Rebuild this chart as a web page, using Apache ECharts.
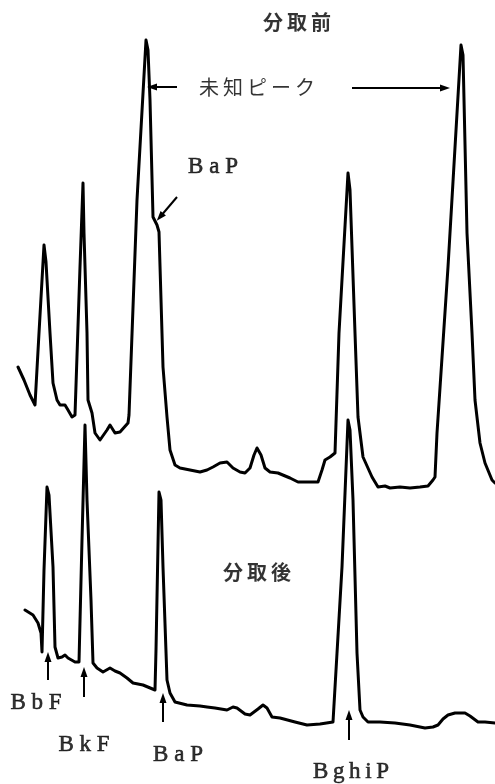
<!DOCTYPE html>
<html>
<head>
<meta charset="utf-8">
<script src="https://cdn.jsdelivr.net/npm/echarts@6/dist/echarts.min.js"></script>
<style>
html,body{margin:0;padding:0;background:#fff;}
#c{width:495px;height:784px;}
</style>
</head>
<body>
<div id="c"></div>
<script>
// Chromatogram before fractionation (分取前): retention (arb.) and detector response (arb.)
const beforeTime = [18,24,30,35,39,44,46,50,53,57,60,65,68,72,75,80,83,84,87,88,92,95,100,107,110,115,120,128,129,137,146,148,150,153,157,159,163,167,170,175,180,190,200,207,213,220,227,233,240,245,250,254,257,261,265,270,278,290,298,318,322,325,330,335,339,348,350,355,358,363,372,378,385,390,400,410,420,428,433,435,437,448,461,463,467,472,475,480,485,492,495];
const beforeSignal = [417,404,389,379,451,539,522,451,401,384,379,379,374,367,369,517,601,551,451,384,371,351,344,354,359,351,352,361,369,584,744,734,684,567,559,552,417,367,334,319,316,314,312,314,317,321,322,316,312,311,316,329,336,329,316,312,311,306,302,302,314,324,327,331,451,611,594,451,367,327,307,297,298,296,297,296,297,298,304,307,351,517,739,729,551,451,384,341,321,304,301];

// Chromatogram after fractionation (分取後)
const afterTime = [25,33,38,41,42,44,47,49,53,55,58,62,65,68,70,75,79,82,85,87,91,93,97,103,110,115,120,127,133,143,155,156,159,161,163,167,170,175,187,200,207,215,227,233,237,245,250,258,263,267,272,280,295,307,320,333,342,348,350,353,357,360,363,368,380,395,410,425,433,438,443,448,455,465,470,478,485,495];
const afterSignal = [174,169,161,151,132,214,297,289,217,137,126,127,129,126,124,122,122,244,359,284,184,121,116,112,116,113,111,106,101,99,94,134,292,284,217,104,91,82,79,78,77,76,74,77,76,70,69,75,79,76,67,66,62,59,60,62,217,364,354,284,131,74,67,62,62,61,59,56,57,59,65,69,71,71,68,62,62,61];

// Annotation texts and their anchors (retention, response)
const labelTexts = ['分取前','未知ピーク','BaP','分取後','BbF','BkF','BaP','BghiP'];
const labelTime = [297,257,213,257,36,84,178,351];
const labelSignal = [762,697,617,212,81,39,29,12];

// Arrow annotations: [from, to] in (retention, response)
const arrowFrom = [[177,697],[352,696],[177,587],[48,104],[84,87],[163,62],[349,44]];
const arrowTo   = [[152,697],[445,696],[160,567],[48,127],[84,112],[163,86],[349,69]];

const zip = (a, b) => a.map((v, i) => [v, b[i]]);
const isJP = s => /[^\x00-\x7f]/.test(s);
const spaced = s => isJP(s) ? s.split('').join('\u2009') : (s === 'BghiP' ? s.split('').join('\u2009') : s.split('').join(' '));

const chart = echarts.init(document.getElementById('c'), null, {renderer: 'canvas'});
const lineStyle = {color: '#000', width: 3, join: 'round', cap: 'round'};

chart.setOption({
  animation: false,
  backgroundColor: '#fff',
  grid: {left: 0, right: 0, top: 0, bottom: 0},
  xAxis: {type: 'value', min: 0, max: 495, show: false, splitLine: {show: false}},
  yAxis: {type: 'value', min: 0, max: 784, show: false, splitLine: {show: false}},
  series: [
    {
      name: '分取前', type: 'line', data: zip(beforeTime, beforeSignal),
      showSymbol: false, lineStyle: lineStyle, clip: false
    },
    {
      name: '分取後', type: 'line', data: zip(afterTime, afterSignal),
      showSymbol: false, lineStyle: lineStyle, clip: false
    },
    {
      name: 'arrows', type: 'line', data: [], clip: false,
      markLine: {
        silent: true,
        symbol: ['none', 'triangle'],
        symbolSize: 9,
        lineStyle: {color: '#000', width: 2, type: 'solid'},
        itemStyle: {color: '#000'},
        label: {show: false},
        emphasis: {disabled: true},
        data: arrowFrom.map((f, i) => [
          {coord: f, symbol: 'none'},
          {coord: arrowTo[i], symbol: 'triangle', symbolSize: [7, 10]}
        ])
      }
    },
    {
      name: 'labels', type: 'scatter', symbolSize: 0, silent: true,
      data: labelTexts.map((t, i) => ({
        name: t, value: [labelTime[i], labelSignal[i]],
        label: isJP(t)
          ? {fontFamily: '"Noto Sans CJK JP"', fontSize: 20, fontWeight: t === '未知ピーク' ? 'normal' : 'bold'}
          : {fontFamily: '"Liberation Serif"', fontSize: 23, textBorderColor: '#000', textBorderWidth: 0.6}
      })),
      label: {
        show: true, position: 'inside', color: '#000',
        align: 'center', verticalAlign: 'middle',
        formatter: p => spaced(p.name)
      }
    }
  ]
});
</script>
</body>
</html>
